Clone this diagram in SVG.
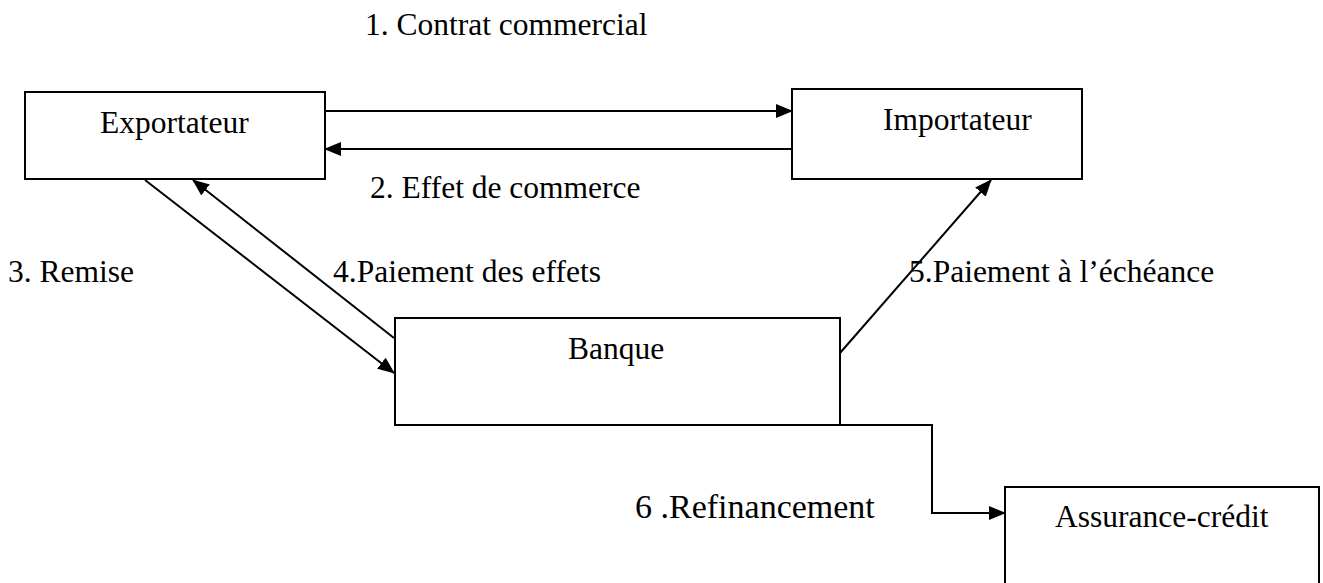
<svg xmlns="http://www.w3.org/2000/svg" width="1323" height="583" viewBox="0 0 1323 583">
  <style>
    .box { fill: #ffffff; stroke: #000000; stroke-width: 2; }
    .lbl { font-family: "Liberation Serif", "Times New Roman", serif; font-size: 31.5px; fill: #000000; }
    .big { font-size: 34px; }
    .conn { fill: none; stroke: #000000; stroke-width: 2; marker-end: url(#arrow); }
  </style>
  <defs>
    <marker id="arrow" viewBox="0 0 17 14" refX="16" refY="7" markerWidth="17" markerHeight="14" markerUnits="userSpaceOnUse" orient="auto">
      <path d="M0,0 L17,7 L0,14 Z" fill="#000000"/>
    </marker>
  </defs>

  <rect width="1323" height="583" fill="#ffffff"/>

  <!-- nodes -->
  <g id="exportateur">
    <rect class="box" x="25" y="92" width="300" height="87"/>
    <text class="lbl" x="100" y="133">Exportateur</text>
  </g>
  <g id="importateur">
    <rect class="box" x="792" y="89" width="290" height="90"/>
    <text class="lbl" x="883" y="130">Importateur</text>
  </g>
  <g id="banque">
    <rect class="box" x="395" y="318" width="445" height="107"/>
    <text class="lbl" x="568" y="359">Banque</text>
  </g>
  <g id="assurance-credit">
    <rect class="box" x="1005" y="487" width="314" height="110"/>
    <text class="lbl" x="1055" y="527">Assurance-crédit</text>
  </g>

  <!-- connectors -->
  <g id="connectors">
    <line class="conn" x1="325" y1="111" x2="792" y2="111"/>
    <line class="conn" x1="792" y1="149" x2="325" y2="149"/>
    <line class="conn" x1="145" y1="180" x2="394" y2="373"/>
    <line class="conn" x1="394" y1="338" x2="193" y2="180"/>
    <line class="conn" x1="840" y1="353" x2="991" y2="180"/>
    <polyline class="conn" points="840,425 932,425 932,513 1005,513"/>
  </g>

  <!-- connector labels -->
  <g id="labels">
    <text class="lbl" x="365" y="35">1. Contrat commercial</text>
    <text class="lbl" x="370" y="198">2. Effet de commerce</text>
    <text class="lbl" x="8" y="282">3. Remise</text>
    <text class="lbl" x="333" y="282">4.Paiement des effets</text>
    <text class="lbl" x="909" y="282">5.Paiement à l’échéance</text>
    <text class="lbl big" x="635" y="518">6 .Refinancement</text>
  </g>
</svg>
